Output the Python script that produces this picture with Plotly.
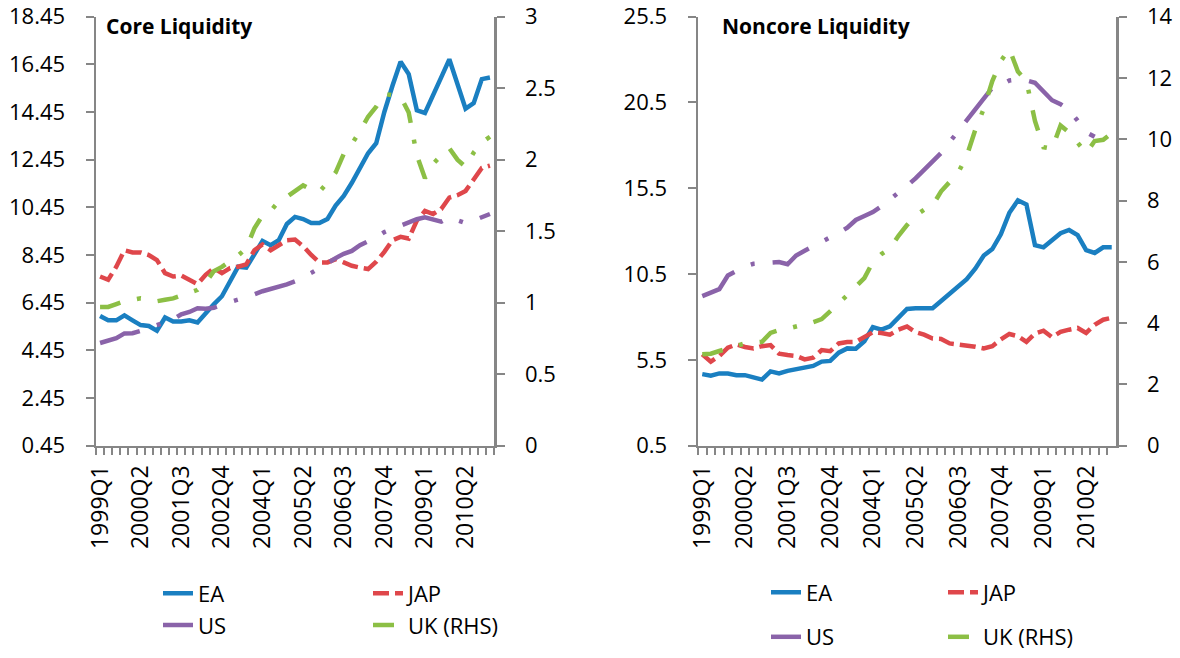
import plotly.graph_objects as go

quarters = [
    "1999Q1", "1999Q2", "1999Q3", "1999Q4", "2000Q1", "2000Q2", "2000Q3", "2000Q4",
    "2001Q1", "2001Q2", "2001Q3", "2001Q4", "2002Q1", "2002Q2", "2002Q3", "2002Q4",
    "2003Q1", "2003Q2", "2003Q3", "2003Q4", "2004Q1", "2004Q2", "2004Q3", "2004Q4",
    "2005Q1", "2005Q2", "2005Q3", "2005Q4", "2006Q1", "2006Q2", "2006Q3", "2006Q4",
    "2007Q1", "2007Q2", "2007Q3", "2007Q4", "2008Q1", "2008Q2", "2008Q3", "2008Q4",
    "2009Q1", "2009Q2", "2009Q3", "2009Q4", "2010Q1", "2010Q2", "2010Q3", "2010Q4",
    "2011Q1",
]
labelled_quarters = ["1999Q1", "2000Q2", "2001Q3", "2002Q4", "2004Q1",
                     "2005Q2", "2006Q3", "2007Q4", "2009Q1", "2010Q2"]

# ---- Core liquidity (left panel) ----
core_ea = [5.89, 5.71, 5.71, 5.92, 5.71, 5.51, 5.47, 5.27, 5.83, 5.66,
           5.66, 5.71, 5.62, 6.03, 6.38, 6.72, 7.34, 7.96, 7.92, 8.51,
           9.04, 8.86, 9.07, 9.75, 10.05, 9.96, 9.79, 9.79, 9.96, 10.52,
           10.93, 11.48, 12.10, 12.72, 13.14, 14.45, 15.55, 16.56, 16.04, 14.52,
           14.41, 15.21, 15.90, 16.66, 15.62, 14.59, 14.82, 15.83, 15.90]
core_jap = [7.55, 7.41, 7.96, 8.65, 8.56, 8.56, 8.45, 8.24, 7.69, 7.55,
            7.59, 7.41, 7.23, 7.62, 7.90, 7.69, 7.90, 7.96, 8.06, 8.65,
            8.89, 8.65, 8.86, 9.07, 9.10, 8.82, 8.45, 8.14, 8.14, 8.28,
            8.14, 8.00, 7.92, 7.86, 8.17, 8.58, 9.07, 9.21, 9.14, 9.89,
            10.30, 10.17, 10.38, 10.86, 10.96, 11.14, 11.62, 12.10, 12.20]
core_us = [4.76, 4.86, 4.96, 5.16, 5.17, 5.27, 5.38, 5.50, 5.60, 5.75,
           5.96, 6.06, 6.22, 6.20, 6.24, 6.38, 6.48, 6.58, 6.67, 6.80,
           6.93, 7.03, 7.10, 7.22, 7.35, 7.50, 7.70, 7.90, 8.13, 8.32,
           8.50, 8.62, 8.86, 9.00, 9.19, 9.41, 9.55, 9.68, 9.80, 9.95,
           10.03, 9.96, 9.85, 10.03, 9.93, 9.79, 9.90, 10.05, 10.17]
core_uk_rhs = [0.97, 0.97, 0.99, 1.01, 1.02, 1.03, 1.02, 1.01, 1.02, 1.03,
               1.05, 1.07, 1.09, 1.14, 1.22, 1.25, 1.29, 1.33, 1.38, 1.52,
               1.61, 1.64, 1.71, 1.74, 1.78, 1.82, 1.79, 1.775, 1.84, 1.91,
               2.04, 2.11, 2.20, 2.30, 2.37, 2.46, 2.45, 2.44, 2.33, 2.03,
               1.87, 1.97, 2.03, 2.08, 2.00, 1.95, 2.05, 2.12, 2.16]

# ---- Noncore liquidity (right panel) ----
noncore_ea = [4.67, 4.58, 4.71, 4.71, 4.61, 4.61, 4.48, 4.35, 4.83, 4.71,
              4.86, 4.96, 5.00, 5.15, 5.40, 5.44, 5.92, 6.17, 6.15, 6.59,
              7.41, 7.26, 7.45, 7.93, 8.47, 8.51, 8.51, 8.51, 8.93, 9.37,
              9.81, 10.20, 10.81, 11.58, 11.96, 12.82, 14.07, 14.80, 14.55, 12.19,
              12.06, 12.44, 12.88, 13.07, 12.77, 11.90, 11.73, 12.06, 12.06]
noncore_jap = [5.82, 5.40, 5.73, 6.21, 6.40, 6.25, 6.17, 6.30, 6.36, 5.86,
               5.78, 5.73, 5.53, 5.63, 6.07, 6.01, 6.46, 6.54, 6.55, 6.84,
               7.11, 7.07, 6.97, 7.26, 7.45, 7.12, 6.97, 6.74, 6.72, 6.46,
               6.40, 6.36, 6.27, 6.17, 6.30, 6.69, 7.01, 6.88, 6.55, 7.03,
               7.20, 6.82, 7.13, 7.26, 7.36, 7.07, 7.55, 7.84, 7.95]
noncore_us = [9.22, 9.43, 9.62, 10.42, 10.70, 10.95, 11.10, 11.15, 11.18, 11.20,
              11.07, 11.58, 11.86, 12.11, 12.35, 12.62, 12.90, 13.20, 13.65, 13.88,
              14.11, 14.45, 14.84, 15.20, 15.64, 16.08, 16.56, 17.04, 17.56, 18.19,
              18.82, 19.44, 20.17, 20.74, 21.36, 21.51, 21.78, 21.84, 21.78, 21.65,
              21.17, 20.63, 20.40, 20.06, 19.44, 18.77, 18.50, None, None]
noncore_uk_rhs = [2.98, 3.00, 3.09, 3.18, 3.27, 3.34, 3.36, 3.39, 3.68, 3.77,
                  3.82, 3.89, 3.95, 4.03, 4.13, 4.37, 4.65, 4.91, 5.20, 5.47,
                  6.00, 6.25, 6.43, 6.85, 7.20, 7.51, 7.70, 7.84, 8.30, 8.62,
                  8.91, 9.45, 10.30, 11.00, 11.90, 12.55, 12.95, 12.21, 11.90, 10.60,
                  9.74, 9.69, 10.45, 10.22, 9.90, 9.55, 9.94, 9.98, 10.20]

series_names = ["EA", "JAP", "US", "UK (RHS)"]
colors = {"EA": "#1a7fc1", "JAP": "#df474b", "US": "#8a63a9", "UK (RHS)": "#8cbf45"}
dashes = {"EA": "solid", "JAP": "16px,6px", "US": "42px,18px,4px,18px",
          "UK (RHS)": "21px,17px,4px,17px"}

FONT = "Open Sans"
FS = 22
AXIS_GREY = "#868686"
W, H = 1180, 658

fig = go.Figure()

panels = [
    ("x", "y", "y3", [core_ea, core_jap, core_us, core_uk_rhs], 0),
    ("x2", "y2", "y4", [noncore_ea, noncore_jap, noncore_us, noncore_uk_rhs], 4),
]
for xref, yref, yref_r, data, leg_off in panels:
    for k, (name, vals) in enumerate(zip(series_names, data)):
        fig.add_trace(go.Scatter(
            x=quarters, y=vals, name=name, mode="lines",
            xaxis=xref, yaxis=(yref_r if name == "UK (RHS)" else yref),
            line=dict(color=colors[name], width=4.5, dash=dashes[name]),
            legend="legend" if leg_off + k == 0 else f"legend{leg_off + k + 1}",
            connectgaps=False, hoverinfo="skip",
        ))

ticktext = [q if q in labelled_quarters else "" for q in quarters]

def xaxis_cfg(x0, x1, anchor):
    return dict(
        domain=[x0 / W, x1 / W], anchor=anchor, type="category",
        categoryorder="array", categoryarray=quarters,
        range=[-0.5, len(quarters) - 0.5],
        tickmode="array", tickvals=quarters, ticktext=ticktext,
        tickson="boundaries", ticks="outside", ticklen=7, tickwidth=2,
        tickcolor=AXIS_GREY, tickangle=-90, ticklabelstandoff=8,
        ticklabeloverflow="allow",
        showline=True, linecolor=AXIS_GREY, linewidth=2.5,
        showgrid=False, zeroline=False, automargin=False,
        tickfont=dict(family=FONT, size=23, color="black"),
    )

y_dom = [1 - 449.8 / H, 1 - 16.8 / H]

def yaxis_cfg(rng, tick0, dtick, fmt, side, anchor, overlay=None):
    d = dict(
        range=rng, tick0=tick0, dtick=dtick, tickformat=fmt, side=side,
        anchor=anchor, ticks="outside", ticklen=8, tickwidth=2,
        tickcolor=AXIS_GREY, showline=True, linecolor=AXIS_GREY, linewidth=2.5,
        showgrid=False, zeroline=False, ticklabelstandoff=16, automargin=False,
        ticklabeloverflow="allow",
        tickfont=dict(family=FONT, size=FS, color="black"),
    )
    if overlay:
        d["overlaying"] = overlay
    else:
        d["domain"] = y_dom
    return d

fig.update_layout(
    template="none",
    width=W, height=H, autosize=False,
    margin=dict(l=0, r=0, t=0, b=0, pad=0),
    paper_bgcolor="white", plot_bgcolor="white",
    font=dict(family=FONT, size=FS, color="black"),
    xaxis=xaxis_cfg(96, 494, "y"),
    xaxis2=xaxis_cfg(698, 1116, "y2"),
    yaxis=yaxis_cfg([0.45, 18.45], 0.45, 2, ".2f", "left", "x"),
    yaxis3=yaxis_cfg([0, 3], 0, 0.5, "", "right", "x", overlay="y"),
    yaxis2=yaxis_cfg([0.5, 25.5], 0.5, 5, ".1f", "left", "x2"),
    yaxis4=yaxis_cfg([0, 14], 0, 2, "", "right", "x2", overlay="y2"),
    showlegend=True,
)

# legend placement (text x, centre y) in pixels
legend_pos = [
    (197, 596), (407, 596), (197, 628), (407, 628),
    (805, 595), (982, 595), (805, 640), (982, 640),
]
for i, (tx, ty) in enumerate(legend_pos):
    key = "legend" if i == 0 else f"legend{i + 1}"
    fig.layout[key] = dict(
        x=(tx - 39) / W, y=1 - (ty + 3) / H, xanchor="left", yanchor="middle",
        bgcolor="rgba(0,0,0,0)", borderwidth=0,
        font=dict(family=FONT, size=FS, color="black"),
        itemclick=False, itemdoubleclick=False,
    )

fig.add_annotation(text="<b>Core Liquidity</b>", xref="paper", yref="paper",
                   x=104 / W, y=1 - 26 / H, xanchor="left", yanchor="middle",
                   showarrow=False, font=dict(family=FONT, size=21, color="black"))
fig.add_annotation(text="<b>Noncore Liquidity</b>", xref="paper", yref="paper",
                   x=720 / W, y=1 - 26 / H, xanchor="left", yanchor="middle",
                   showarrow=False, font=dict(family=FONT, size=21, color="black"))

fig.write_html(
    "out.html",
    config={"displayModeBar": False, "staticPlot": True},
    post_script="document.body.style.margin='0';document.body.style.padding='0';"
                "document.body.style.overflow='hidden';",
)
